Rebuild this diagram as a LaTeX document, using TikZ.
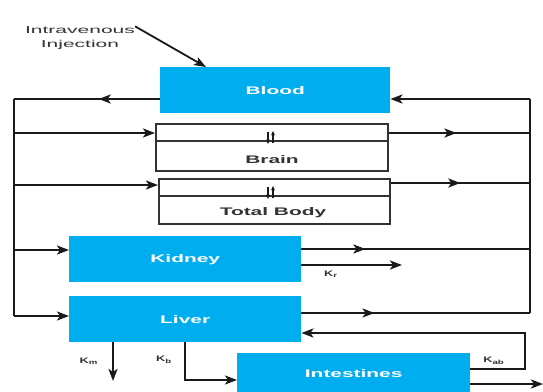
\documentclass[tikz,border=0pt]{standalone}
\usepackage{fontspec}
\setmainfont{Liberation Sans}
\usetikzlibrary{arrows.meta,decorations.markings}
\definecolor{organfill}{HTML}{00AEEF}
\definecolor{wirecol}{HTML}{1A1A1A}
\definecolor{boxline}{HTML}{333333}
\newcommand{\widetext}[2][1.9]{\scalebox{#1}[1]{#2}}

\begin{document}
\begin{tikzpicture}[x=1pt,y=-1pt,
  organ/.style={fill=organfill, draw=none, anchor=north west, inner sep=0pt,
    text=white, font=\fontsize{11}{13}\selectfont\bfseries},
  tissue/.style={draw=boxline, line width=1.6pt, anchor=north west, inner sep=0pt},
  wire/.style={draw=wirecol, line width=2.2pt},
  tip/.style={-{Stealth[length=12pt,width=9pt,inset=3pt]}},
  midarrow/.style={postaction={decorate},
    decoration={markings, mark=at position #1 with {\arrow{Stealth[length=12pt,width=9pt,inset=3pt]}}}},
  klabel/.style={font=\fontsize{8}{9}\selectfont\bfseries, text=boxline, inner sep=0pt},
  tinyarrow/.style={draw=wirecol, line width=1.3pt, -{Stealth[length=4.5pt,width=4pt]}}
]
\clip (0,0) rectangle (543,391);
\fill[white] (0,0) rectangle (543,391);

% injection label
\node[font=\fontsize{10}{14}\selectfont, text=boxline, align=center, inner sep=0pt]
  (inj) at (80,38) {\widetext[2.1]{Intravenous}\\\widetext[2.1]{Injection}};

% compartments
\node[organ, minimum width=230pt, minimum height=46pt] (blood) at (160,67) {\widetext{Blood}};
\node[tissue, minimum width=232pt, minimum height=47pt] (brain) at (155,123) {};
\node[tissue, minimum width=231pt, minimum height=45pt] (body) at (158,178) {};
\node[organ, minimum width=232pt, minimum height=46pt] (kidney) at (69,236) {\widetext{Kidney}};
\node[organ, minimum width=232pt, minimum height=46pt] (liver) at (69,296) {\widetext{Liver}};
\node[organ, minimum width=233pt, minimum height=40pt] (intest) at (237,353) {\widetext{Intestines}};

% tissue dividers and exchange arrows
\draw[boxline, line width=1.6pt] (brain.west |- 0,141) -- (brain.east |- 0,141);
\draw[boxline, line width=1.6pt] (body.west |- 0,196) -- (body.east |- 0,196);
\draw[tinyarrow] (268,132) -- (268,144);
\draw[tinyarrow] (273,143) -- (273,131);
\draw[tinyarrow] (268,187) -- (268,199);
\draw[tinyarrow] (273,198) -- (273,186);
\node[font=\fontsize{11}{13}\selectfont\bfseries, text=boxline, inner sep=0pt] (brainlbl) at (272,160) {\widetext{Brain}};
\node[font=\fontsize{11}{13}\selectfont\bfseries, text=boxline, inner sep=0pt] (bodylbl) at (273,213) {\widetext{Total Body}};

% injection arrow
\draw[wire, line width=1.8pt, tip] (inj.north east) -- ([xshift=46pt]blood.north west);

% arterial side (left)
\coordinate (ltop) at (14,99);
\coordinate (lbot) at (14,316);
\draw[wire, midarrow=0.42] (blood.west |- ltop) -- (ltop);
\draw[wire] (ltop) -- (lbot);
\draw[wire, tip] (ltop |- 0,133) -- (brain.west |- 0,133);
\draw[wire, tip] (ltop |- 0,185) -- (body.west |- 0,185);
\draw[wire, tip] (ltop |- 0,250) -- (kidney.west |- 0,250);
\draw[wire, tip] (lbot) -- (liver.west |- lbot);

% venous side (right)
\coordinate (rtop) at (530,99);
\coordinate (rbot) at (530,313);
\draw[wire] (rbot) -- (rtop);
\draw[wire, tip] (rtop) -- (blood.east |- rtop);
\draw[wire, midarrow=0.48] (brain.east |- 0,133) -- (rtop |- 0,133);
\draw[wire, midarrow=0.50] (body.east |- 0,183) -- (rtop |- 0,183);
\draw[wire, midarrow=0.28] (kidney.east |- 0,249) -- (rtop |- 0,249);
\draw[wire, midarrow=0.32] (liver.east |- rbot) -- (rbot);

% renal elimination
\coordinate (kr) at (402,265);
\draw[wire, tip] (kidney.east |- kr) -- (kr);
\node[klabel] (krl) at (331,274) {\widetext[1.6]{K\textsubscript{r}}};

% hepatic metabolism and biliary excretion
\coordinate (km) at (113,381);
\draw[wire, tip] (liver.south -| km) -- (km);
\node[klabel] (kml) at (89,361) {\widetext[1.6]{K\textsubscript{m}}};
\coordinate (kb) at (185,380);
\draw[wire, tip] (liver.south -| kb) -- (kb) -- (intest.west |- kb);
\node[klabel] (kbl) at (164,360) {\widetext[1.6]{K\textsubscript{b}}};

% reabsorption back to liver
\coordinate (ra) at (525,369);
\coordinate (rb) at (525,333);
\draw[wire, tip] (intest.east |- ra) -- (ra) -- (rb) -- (liver.east |- rb);
\node[klabel] (kal) at (494,361) {\widetext[1.6]{K\textsubscript{ab}}};

% faecal elimination
\coordinate (kf) at (543,384);
\draw[wire, tip] (intest.east |- kf) -- (kf);
\end{tikzpicture}
\end{document}
